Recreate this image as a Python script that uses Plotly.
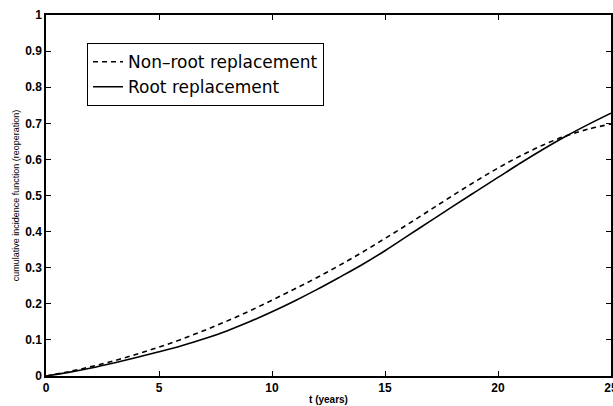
import plotly.graph_objects as go

t_years = list(range(0, 26))
non_root = [0.0, 0.012, 0.026, 0.042, 0.060, 0.080, 0.102, 0.126, 0.152, 0.180,
            0.210, 0.241, 0.273, 0.307, 0.343, 0.381, 0.420, 0.460, 0.500, 0.539,
            0.576, 0.610, 0.640, 0.665, 0.684, 0.698]
root = [0.0, 0.010, 0.022, 0.036, 0.051, 0.067, 0.084, 0.103, 0.125, 0.150,
        0.178, 0.208, 0.240, 0.274, 0.309, 0.347, 0.388, 0.429, 0.470, 0.510,
        0.550, 0.590, 0.628, 0.664, 0.697, 0.728]
x_ticks = [0, 5, 10, 15, 20, 25]
y_ticks = [0, 0.1, 0.2, 0.3, 0.4, 0.5, 0.6, 0.7, 0.8, 0.9, 1]
y_tick_text = ["0", "0.1", "0.2", "0.3", "0.4", "0.5", "0.6", "0.7", "0.8", "0.9", "1"]

fig = go.Figure()
fig.add_trace(go.Scatter(x=t_years, y=non_root, mode="lines", name="Non\u2013root replacement",
                         line=dict(color="black", width=1.6, dash="5px,4px"), line_shape="spline"))
fig.add_trace(go.Scatter(x=t_years, y=root, mode="lines", name="Root replacement",
                         line=dict(color="black", width=1.6), line_shape="spline"))

axis_common = dict(showgrid=False, zeroline=False, showline=True, linecolor="black", linewidth=1.5,
                   mirror="ticks", ticks="inside", ticklen=5, tickcolor="black", tickwidth=1,
                   automargin=False,
                   tickfont=dict(family="Liberation Sans", size=12, color="black", weight="bold"))

fig.update_xaxes(range=[0, 25], tickvals=x_ticks, ticktext=[str(v) for v in x_ticks],
                 ticklabeloverflow="allow",
                 title=dict(text="t (years)", standoff=2,
                            font=dict(family="Liberation Sans", size=10, color="black", weight="bold")),
                 **axis_common)
fig.update_yaxes(range=[0, 1], tickvals=y_ticks, ticktext=y_tick_text,
                 title=dict(text="cumulative incidence function (reoperation)", standoff=4,
                            font=dict(family="Liberation Sans Narrow, Liberation Sans", size=9, color="black")),
                 **axis_common)

fig.update_layout(
    width=613, height=406,
    margin=dict(l=46, r=2, t=15, b=30, autoexpand=False),
    paper_bgcolor="white", plot_bgcolor="white",
    showlegend=True,
    legend=dict(x=0.0726, y=0.922, xanchor="left", yanchor="top",
                bgcolor="white", bordercolor="black", borderwidth=1,
                font=dict(family="DejaVu Sans", size=17, color="black"),
                tracegroupgap=0, itemwidth=30),
)

fig.write_html("out.html")
